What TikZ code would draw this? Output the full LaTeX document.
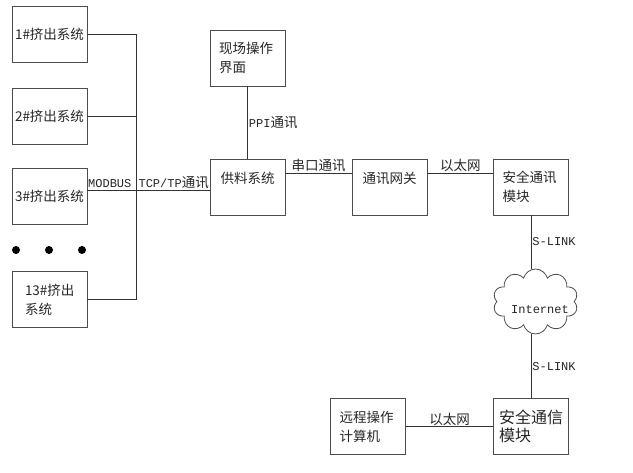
\documentclass[tikz,border=0pt]{standalone}
\usepackage{fontspec}
\setmainfont{Noto Sans CJK SC}
\setmonofont{Liberation Mono}
\usetikzlibrary{shapes.symbols}
\newcommand\entt[1]{{\fontsize{12}{14}\selectfont\ttfamily #1}}

\begin{document}
\begin{tikzpicture}[x=1pt, y=-1pt, line width=0.8pt,
    every node/.style={text=black!85, font=\fontsize{13.5}{19}\selectfont},
    box/.style={draw=black!70, minimum width=75pt, minimum height=56pt, inner sep=0pt},
    twoline/.style={box, text width=57pt, align=left},
    upper/.style={box, text height=10pt, text depth=16pt},
    lbl/.style={inner sep=1pt}]
      \useasboundingbox (0, 0) rectangle (633, 473);
      \node [box] (ex1) at (49.5, 34.5) {1\#挤出系统};
      \node [box] (ex2) at (49.5, 116) {2\#挤出系统};
      \node [box] (ex3) at (49.5, 196) {3\#挤出系统};
      \node [twoline, text width=49pt] (ex13) at (49.5, 299.5) {13\#挤出\\系统};
      \foreach \x in {16, 49, 82}
        \fill [black] (\x, 250) circle (4pt);
      \node [twoline] (hmi) at (247.5, 58) {现场操作\\界面};
      \node [upper] (gl) at (247.5, 187) {供料系统};
      \node [upper] (gw) at (389.5, 187) {通讯网关};
      \node [twoline] (sm1) at (531, 187) {安全通讯\\模块};
      \node [twoline, text width=64pt, font=\fontsize{16}{17.5}\selectfont] (sm2) at (531, 426.5) {安全通信\\模块};
      \node [twoline] (pc) at (368, 426.5) {远程操作\\计算机};
      \node [cloud, draw=black!70, fill=white, cloud puffs=10, cloud ignores aspect,
        minimum width=85pt, minimum height=65pt, inner sep=0pt] (net) at (535.5, 301.5) {};
      \node (nettext) at (540, 310) {\entt{Internet}};
      \coordinate (bus3) at (136, 190);
      \draw [black!80] (ex1.east) -- (ex1.east -| bus3) -- (ex13.east -| bus3) -- (ex13.east);
      \draw [black!80] (ex2.east) -- (ex2.east -| bus3);
      \draw [black!80] (ex3.east |- bus3) -- node [above, lbl] {\entt{MODBUS TCP/TP}通讯} (gl.west |- bus3);
      \draw [black!80] (hmi) -- node [right, lbl] {\entt{PPI}通讯} (gl);
      \draw [black!80] ([yshift=14pt]gl.east) -- node [above, lbl] {串口通讯} ([yshift=14pt]gw.west);
      \draw [black!80] ([yshift=14pt]gw.east) -- node [above, lbl] {以太网} ([yshift=14pt]sm1.west);
      \draw [black!80] (sm1.south) -- node [right, lbl] {\entt{S-LINK}} (sm1.south |- net.north);
      \draw [black!80] (sm2.north |- net.south) -- node [right, lbl] {\entt{S-LINK}} (sm2.north);
      \draw [black!80] (pc) -- node [above, inner sep=0.5pt] {以太网} (sm2);
\end{tikzpicture}
\end{document}
